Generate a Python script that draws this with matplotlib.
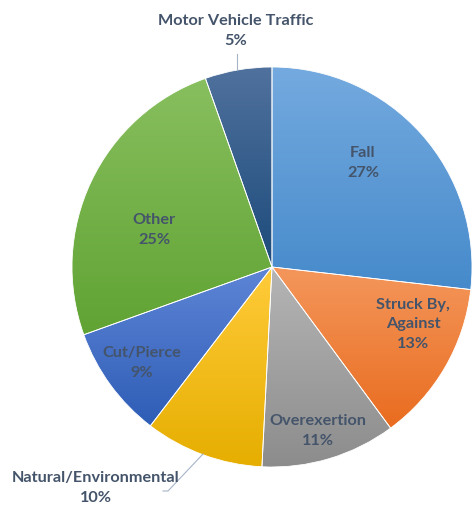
import numpy as np
import matplotlib
matplotlib.use("Agg")
import matplotlib.pyplot as plt
from matplotlib.colors import LinearSegmentedColormap

categories = ["Fall", "Struck By,\nAgainst", "Overexertion", "Natural/Environmental",
              "Cut/Pierce", "Other", "Motor Vehicle Traffic"]
values = [26.8, 13.1, 10.9, 9.6, 9.1, 25.1, 5.4]
top_colors = ["#74AADF", "#F4975C", "#B5B5B5", "#FFCB3A", "#5E85D6", "#88BF5F", "#50719D"]
bottom_colors = ["#468ACB", "#E96C1F", "#8C8C8C", "#E6AE00", "#2E5DB6", "#60A333", "#1C4B7B"]

# label positions (data coords, pie radius 1)
label_pos = [(0.455, 0.525), (0.705, -0.28), (0.23, -0.815), (-0.88, -1.10),
             (-0.65, -0.475), (-0.59, 0.19), (-0.18, 1.185)]

plt.rcParams['font.family'] = ['Lato', 'DejaVu Sans']
fig = plt.figure(figsize=(4.73, 5.06), dpi=100)
cx, cy, r = 272, 268, 200
W, H = 473, 506
ax = fig.add_axes([(cx - r) / W, (H - cy - r) / H, 2 * r / W, 2 * r / H])
wedges, _ = ax.pie(values, startangle=90, counterclock=False, radius=1,
                   wedgeprops=dict(linewidth=0.6, edgecolor="white"))

grad = np.linspace(0, 1, 256).reshape(-1, 1)
for w, tc, bc in zip(wedges, top_colors, bottom_colors):
    v = w.get_path().vertices
    x0, x1 = v[:, 0].min(), v[:, 0].max()
    y0, y1 = v[:, 1].min(), v[:, 1].max()
    cmap = LinearSegmentedColormap.from_list("g", [tc, bc])
    w.set_facecolor("none")
    im = ax.imshow(grad, cmap=cmap, extent=(x0, x1, y0, y1), aspect='auto',
                   origin='upper', zorder=1)
    im.set_clip_path(w)
    w.set_zorder(2)
ax.set_xlim(-1, 1)
ax.set_ylim(-1, 1)
ax.set_aspect('equal')
ax.axis('off')

txt_color = "#44546A"
for cat, val, (x, y) in zip(categories, values, label_pos):
    ax.text(x, y, f"{cat}\n{round(val)}%", ha='center', va='center', fontsize=11.7,
            fontweight='bold', color=txt_color, linespacing=1.5, clip_on=False, zorder=5)

line_color = "#A6B4C8"
ax.plot([-0.175, -0.175], [1.065, 0.99], color=line_color, lw=0.8, clip_on=False, zorder=4)
ax.plot([-0.545, -0.52, -0.345], [-1.12, -1.12, -0.935], color=line_color, lw=0.8,
        clip_on=False, zorder=4)

fig.savefig("out.png", dpi=100)
